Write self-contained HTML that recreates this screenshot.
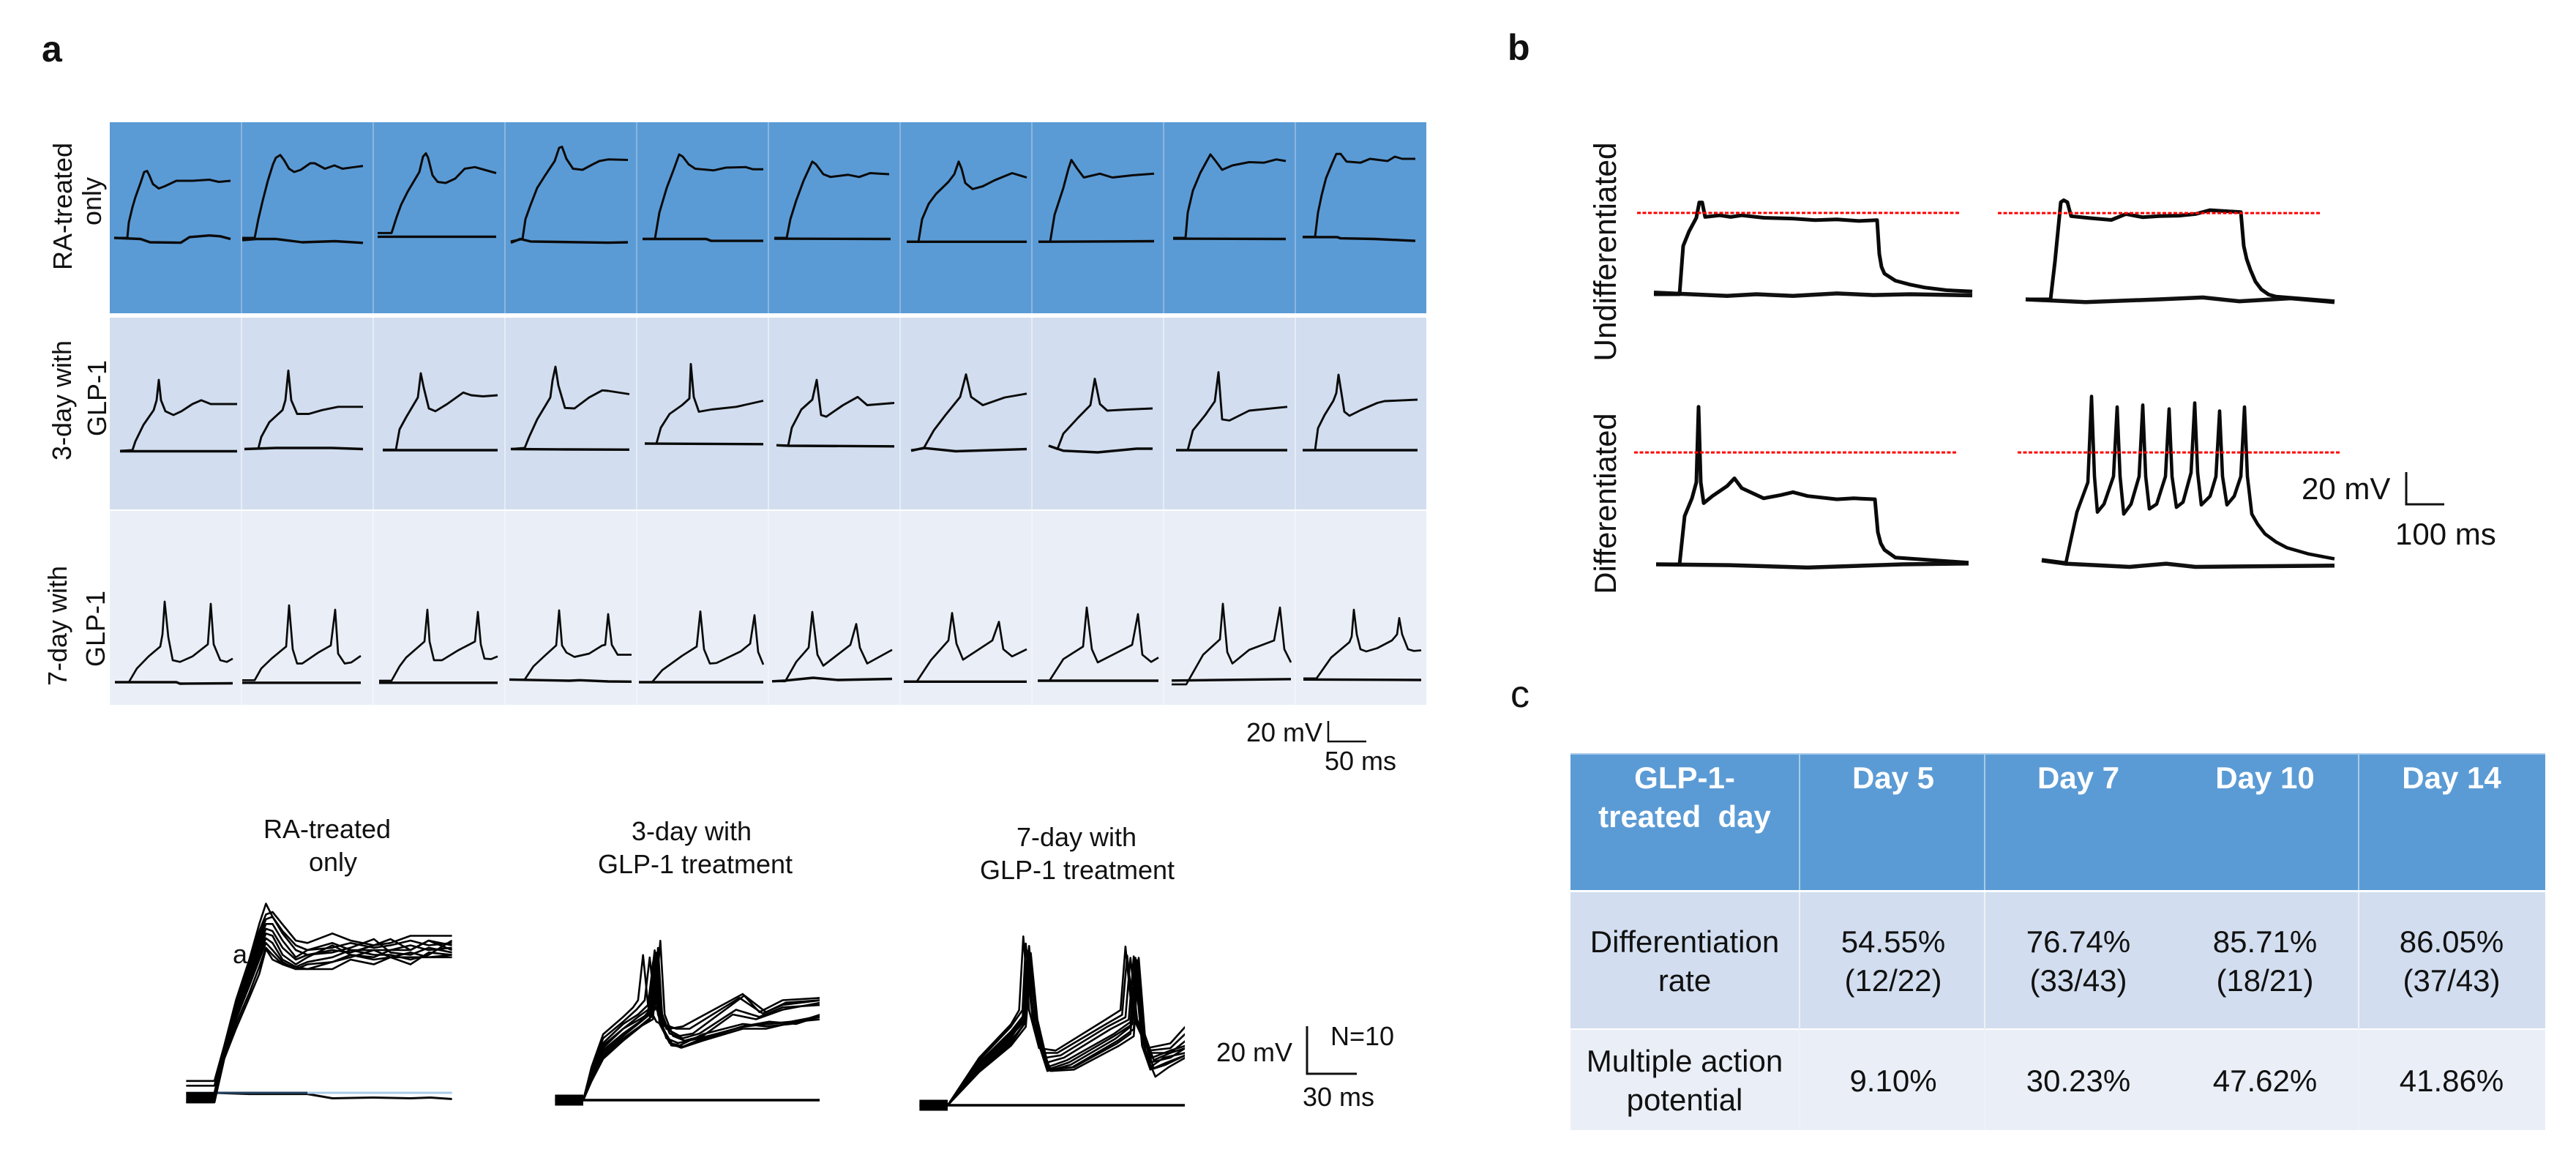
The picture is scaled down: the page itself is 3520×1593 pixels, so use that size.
<!DOCTYPE html>
<html lang="en">
<head>
<meta charset="utf-8">
<title>GLP-1 electrophysiology figure</title>
<style>
html,body{margin:0;padding:0;background:#fff}
svg{display:block}
text{font-family:"Liberation Sans",sans-serif;fill:#111}
.bold{font-weight:700}
.t42{font-size:42px}
.t36{font-size:36px}
.mid{text-anchor:middle}
.wh{fill:#fff;font-weight:700;white-space:pre}
</style>
</head>
<body>
<svg id="figure" xmlns="http://www.w3.org/2000/svg" width="3520" height="1593" viewBox="0 0 3520 1593">
<rect x="0" y="0" width="3520" height="1593" fill="#fff"/>

<text class="bold" x="57" y="84" font-size="50">a</text>
<text class="bold" x="2060" y="82" font-size="50">b</text>
<text x="2064" y="966" font-size="52">c</text>

<rect x="150" y="167" width="1799" height="261" fill="#5B9BD5"/>
<rect x="150" y="434" width="1799" height="262" fill="#D2DEEF"/>
<rect x="150" y="698" width="1799" height="265" fill="#EAEFF7"/>
<g id="gridlines"></g>

<text class="t36 mid" transform="translate(98,282) rotate(-90)">RA-treated</text>
<text class="t36 mid" transform="translate(138,275) rotate(-90)">only</text>
<text class="t36 mid" transform="translate(97,547) rotate(-90)">3-day with</text>
<text class="t36 mid" transform="translate(145,544) rotate(-90)">GLP-1</text>
<text class="t36 mid" transform="translate(91,855) rotate(-90)">7-day with</text>
<text class="t36 mid" transform="translate(143,859) rotate(-90)">GLP-1</text>

<g id="rowTraces"></g>

<text class="t36" x="1703" y="1013">20 mV</text>
<path d="M1815 985V1013H1867" fill="none" stroke="#111" stroke-width="2.5"/>
<text class="t36" x="1810" y="1052">50 ms</text>

<text class="t36 mid" x="447" y="1145">RA-treated</text>
<text class="t36 mid" x="455" y="1190">only</text>
<text class="t36 mid" x="945" y="1148">3-day with</text>
<text class="t36 mid" x="950" y="1193">GLP-1 treatment</text>
<text class="t36 mid" x="1471" y="1156">7-day with</text>
<text class="t36 mid" x="1472" y="1201">GLP-1 treatment</text>

<defs>
<clipPath id="clipA"><rect x="240" y="1200" width="378" height="330"/></clipPath>
<clipPath id="clipB"><rect x="740" y="1200" width="380" height="330"/></clipPath>
<clipPath id="clipC"><rect x="1240" y="1200" width="379" height="340"/></clipPath>
</defs>
<g id="overlayA" clip-path="url(#clipA)"></g>
<g id="overlayB" clip-path="url(#clipB)"></g>
<g id="overlayC" clip-path="url(#clipC)"></g>
<text class="t36" x="318" y="1316">a</text>

<text class="t36" x="1662" y="1450">20 mV</text>
<path d="M1786 1402V1467H1854" fill="none" stroke="#111" stroke-width="3"/>
<text class="t36" x="1818" y="1428">N=10</text>
<text class="t36" x="1780" y="1511">30 ms</text>

<text class="mid" font-size="42.5" transform="translate(2208,344) rotate(-90)">Undifferentiated</text>
<text class="mid" font-size="41.7" transform="translate(2208,688) rotate(-90)">Differentiated</text>
<g id="panelB"></g>
<path d="M3288 645V689H3340" fill="none" stroke="#111" stroke-width="3"/>
<text class="t42" x="3145" y="682">20 mV</text>
<text class="t42" x="3273" y="744">100 ms</text>

<g>
<rect x="2146" y="1029" width="1332" height="2" fill="#a9cbe9"/>
<rect x="2146" y="1031" width="1332" height="185" fill="#5B9BD5"/>
<rect x="2146" y="1219" width="1332" height="186" fill="#D2DEEF"/>
<rect x="2146" y="1407" width="1332" height="137" fill="#EAEFF7"/>
<path d="M2459 1031V1216M2712 1031V1216M3223 1031V1216" stroke="#a9cbe9" stroke-width="2"/>
<path d="M2459 1219V1544M2712 1219V1544M3223 1219V1544" stroke="#eef2f8" stroke-width="2"/>
<text class="t42 mid wh" x="2302" y="1077">GLP-1-</text>
<text class="t42 mid wh" x="2302" y="1130">treated  day</text>
<text class="t42 mid wh" x="2587" y="1077">Day 5</text>
<text class="t42 mid wh" x="2840" y="1077">Day 7</text>
<text class="t42 mid wh" x="3095" y="1077">Day 10</text>
<text class="t42 mid wh" x="3350" y="1077">Day 14</text>
<text class="t42 mid" x="2302" y="1301">Differentiation</text>
<text class="t42 mid" x="2302" y="1354">rate</text>
<text class="t42 mid" x="2587" y="1301">54.55%</text>
<text class="t42 mid" x="2587" y="1354">(12/22)</text>
<text class="t42 mid" x="2840" y="1301">76.74%</text>
<text class="t42 mid" x="2840" y="1354">(33/43)</text>
<text class="t42 mid" x="3095" y="1301">85.71%</text>
<text class="t42 mid" x="3095" y="1354">(18/21)</text>
<text class="t42 mid" x="3350" y="1301">86.05%</text>
<text class="t42 mid" x="3350" y="1354">(37/43)</text>
<text class="t42 mid" x="2302" y="1464">Multiple action</text>
<text class="t42 mid" x="2302" y="1517">potential</text>
<text class="t42 mid" x="2587" y="1491">9.10%</text>
<text class="t42 mid" x="2840" y="1491">30.23%</text>
<text class="t42 mid" x="3095" y="1491">47.62%</text>
<text class="t42 mid" x="3350" y="1491">41.86%</text>
</g>
</svg>

<script>
/* ---------- Panel a: single-cell recordings, [time, voltage] pairs ---------- */
const raTreatedFiring = [
[[6,0],[24,0],[26,14],[31,28],[35,37],[42,50],[47,60],[51,61],[54,57],[59,49],[67,45],[75,47],[91,52],[113,52],[136,53],[149,51],[165,52]],
[[1,0],[18,0],[23,17],[29,34],[36,52],[43,67],[47,73],[53,75.5],[58,71],[65,63],[72,60],[81,62],[94,68],[100,68],[114,63],[127,66],[138,63],[154,64.5],[166,65.5]],
[[6,4.4],[25,4.4],[32,19],[38,30],[47,42],[63,60],[68,74],[72,77],[75,73],[81,57],[88,51],[99,50],[112,54],[125,63],[139,64.5],[152,62],[168,59]],
[[8,-3.3],[24,-1],[28,17],[35,30],[44,45.5],[55,57],[68,70],[74,82],[78,83],[84,72],[93,63],[106,62],[120,67],[129,70],[141,71.5],[168,71]],
[[8,-1],[25,-0.7],[31,23],[41,45.5],[51,63],[58,76],[63,74],[71,67],[80,63],[105,61.5],[122,64],[149,64.5],[159,62.5],[173,62.5]],
[[8,0],[25,0],[30,17],[38,34],[48,52],[60,69.5],[65,67],[75,58],[85,55.5],[109,57.5],[124,55.5],[139,59],[165,58]],
[[9,-3.5],[25,-3.5],[30,17],[39,31],[49,40],[66,51],[74,58],[80,69.5],[84,63],[89,50],[99,44.5],[113,47],[129,52.5],[153,59],[173,55]],
[[9,-3.5],[25,-3.5],[31,21],[43,45.5],[50,63],[54,71],[62,63],[71,55],[93,58.5],[110,55],[137,57],[167,58.5]],
[[13,0],[30,0],[33,23],[40,43],[50,59],[64,76],[70,71],[80,62],[94,66],[117,69],[137,68.5],[154,71.5],[167,70]],
[[10,1],[27,1],[31,23],[36,39],[42,54.5],[51,69],[56,76.5],[62,76.5],[70,69.5],[89,68.5],[102,72],[126,70],[136,74],[146,72],[164,72]]
];
const raTreatedResting = [
[[6,0],[42,-1],[55,-4],[97,-4.4],[109,0.7],[136,2.2],[151,1.5],[165,-1]],
[[1,-2],[20,-1],[47,-1],[83,-4],[128,-3],[166,-4.5]],
[[6,1.1],[168,1.1]],
[[8,-4.4],[21,-1],[35,-3.3],[141,-4.4],[168,-4]],
[[8,-1],[95,-1],[102,-2.7],[173,-2.7]],
[[8,-0.7],[167,-1]],
[[9,-3.5],[173,-3.5]],
[[9,-3.5],[167,-3]],
[[13,-0.7],[167,-1]],
[[10,0.7],[57,0.7],[62,-0.4],[109,-1],[164,-2.7]]
];
const threeDayFiring = [
[[14,-0.7],[31,0],[35,8],[46,23],[60,36.5],[64,45.5],[67,64],[70,45.5],[76,35.5],[87,32],[98,35.5],[113,42],[125,45.5],[138,42],[174,42]],
[[4,1],[23,1.5],[27,12],[38,25.5],[56,36.5],[60,45.5],[64,72.5],[68,45.5],[76,33],[92,33],[110,36.5],[132,39.5],[166,39.5]],
[[13,0.5],[31,0.5],[36,19],[45,30],[61,48],[65,70],[69,57],[76,38],[85,35.5],[101,42],[123,52.5],[134,50],[150,49],[170,50]],
[[8,1],[27,2],[33,12],[44,28],[62,48],[65,63.5],[69,76],[73,59],[82,38.5],[95,38],[115,48],[133,54.5],[141,54],[170,51]],
[[11,6],[27,6],[33,20.5],[45,33],[62,41],[72,47],[74,78.5],[78,48.5],[85,35],[102,37],[136,39.5],[173,45]],
[[11,4.5],[27,4],[32,20.5],[45,37],[60,46],[66,64],[72,32],[79,30.5],[102,41],[122,48.5],[135,41],[172,43]],
[[15,0],[32,1.5],[46,18],[62,32],[82,48.5],[90,69],[97,48.5],[113,41],[143,48],[173,51.5]],
[[23,4],[35,1],[43,15],[63,29.5],[80,41],[86,65],[93,42],[103,36],[130,37],[165,38]],
[[17,0],[33,0],[40,18],[57,32],[70,44.5],[75,71],[80,28],[90,27],[117,36],[169,39.5]],
[[10,0],[27,0],[31,20],[40,32],[52,45],[56,52],[59,68.7],[63,52],[67,35],[74,31.3],[90,36.7],[112,43],[122,44.7],[167,46]]
];
const threeDayResting = [
[[14,-1],[174,-1]],
[[4,1],[47,2],[123,2],[166,1]],
[[13,0],[170,0]],
[[8,1],[84,0.7],[170,0.5]],
[[11,6],[173,5.5]],
[[11,4.5],[28,4],[172,3.5]],
[[15,-0.5],[32,2],[76,-1],[173,1]],
[[23,4],[43,-0.5],[90,-2],[143,1.3],[165,1.3]],
[[17,0],[169,0]],
[[10,0],[167,0]]
];
const sevenDayFiring = [
[[7,0],[26,0],[37,12.5],[53,23.5],[69,32.5],[72,43.5],[75,73.5],[80,41],[86,20],[96,18.5],[113,23.5],[134,34.5],[138,71.5],[142,34.5],[151,20],[160,18.5],[168,21.5]],
[[1,1.8],[18,1.8],[27,12.5],[41,21.5],[61,32.5],[65,70],[70,30],[76,17],[83,17],[105,27],[122,33.5],[128,66],[132,26],[141,17],[150,18],[163,24]],
[[8,1.3],[25,1.3],[36,14.5],[45,22.5],[70,37],[74,66],[77,37],[83,20],[94,20],[116,29],[139,37],[143,64],[147,34.5],[152,21.5],[161,21],[170,23.5]],
[[6,2.4],[27,2.4],[39,14.5],[55,24.5],[70,33.5],[74,65.5],[78,33.5],[84,27],[95,23],[115,26],[133,33.5],[137,34],[141,62],[146,34],[154,25],[173,25]],
[[3,0],[21,0],[35,11],[62,24],[82,32.5],[87,64.5],[92,30],[100,17],[109,17.5],[142,28],[155,35],[161,61],[166,27.5],[173,16]],
[[5,0.8],[23,0.8],[38,18.5],[55,31.5],[60,64],[67,25],[75,15],[112,34],[120,53],[125,31.5],[135,17],[169,29.5]],
[[5,0.8],[23,0.8],[42,20],[66,38],[71,63],[77,35],[86,20.5],[126,38],[135,55],[141,30],[153,23.5],[173,30]],
[[8,1.3],[24,1.3],[43,21],[70,32.5],[75,68],[82,30],[90,18],[137,34],[145,62],[151,25],[163,18.5],[173,22.5]],
[[11,-2],[31,-2],[54,25],[77,39],[81,71.5],[87,27.5],[94,17],[117,29.5],[151,38],[159,68],[165,30],[174,18]],
[[11,3.5],[29,3.5],[49,22.5],[74,36.5],[77,41.5],[80,66],[84,43.5],[89,30],[97,28],[112,31],[132,38],[139,43.5],[142,58.5],[146,43.5],[154,30],[162,28.5],[172,29]]
];
const sevenDayResting = [
[[7,0],[91,0],[96,-1.3],[168,-1]],
[[1,-0.5],[163,-0.5]],
[[8,-0.5],[170,-0.5]],
[[6,2.4],[88,1.3],[102,1.8],[141,0.7],[173,0.5]],
[[3,0],[173,0]],
[[5,0.8],[23,1.5],[61,4],[95,2],[169,3]],
[[5,0.5],[173,0.5]],
[[8,1.3],[173,1.3]],
[[11,1.5],[174,2.8]],
[[11,2.5],[172,2]]
];

/* ---------- Overlay of ten RA-treated recordings: shared time base, one voltage list per trace ---------- */
const overlayRaTimeMs = [-17,0,6,13,21,27,31,35,41,49,56,71,82,96,106,118,129,143];
const overlayRaVoltage = [
[5,5,20,39,56,71,79.5,74,68,62,60,61,63,61,62,64,62,63],
[3,3,19,38,55,68,75,76,70.8,64,63,67,64,62,63,66,66,66],
[0,0,18,37,54,66,73,74,67,60,58,60,59,62,64.6,60,64,62],
[-1,-1,17.5,36,52,64,71,71,64,57,60,63,60,60,60,62,60,61],
[-2,-2,17,35,50,62,69,68,61,56,58,59,61,64.6,59,58,61,59],
[-3,-3,16.5,34,49,60,67,66,58,54,57,62,58,57,60,60,64,60],
[-4,-4,16,33,47,58,65,63,56,53,55,57,60,58,58,56,58,64],
[-4,-4,15.5,31,45,56,63,60,55,52,54,55,57,60,57,59,57,58],
[-3,-3,15,29,42,53,61,58,54,52,52,52,56,54,57,54,59,58],
[-4,-4,14.4,27,40,50,60.5,56,54,53,52,55,58,56,57,57,57,57]
];
const overlayRaRestTimeMs = [-17,0,21,56,71,96,118,130,143];
const overlayRaRestVoltage = [0,0,-0.5,-0.5,-2.3,-2,-2.3,-2,-2.6];

/* ---------- Overlay of ten 3-day recordings, [time from onset, voltage] ---------- */
const overlay3DayTraces = [
[[0,0],[5,14],[12,27.7],[24,35],[30,39],[33,42],[36,61],[39,40],[44,33],[52,30],[60,31],[96,44.6],[106,37],[120,42],[143,43]],
[[0,0],[5,13],[12,26],[24,33],[32,38],[37,42],[40,60],[43,40],[48,32],[56,30],[64,30],[94,43],[108,36.4],[120,40],[143,42]],
[[0,0],[5,12],[12,24],[24,32],[33,36],[39,40],[43,63],[46,38],[50,30],[58,27],[66,28],[97,44],[110,37],[122,41],[143,42]],
[[0,0],[5,11],[12,23],[24,30],[33,35],[41,39],[44,62],[47,37],[52,28],[60,26],[70,28],[92,38],[106,35],[120,39],[143,40]],
[[0,0],[5,11],[12,22],[24,30],[34,34],[43,38],[46.4,67],[49,36],[54,27],[61,25],[72,27],[90,36],[104,34],[120,38],[143,41]],
[[0,0],[5,10],[12,21],[24,28],[34,33],[39,37],[42,58],[45,36],[50,26],[57,24],[70,26],[96,30.8],[110,32],[125,33],[143,35.4]],
[[0,0],[5,10],[12,20],[24,27],[33,32],[40,36],[43,62],[46,34],[52,24],[58,23],[72,27.7],[96,32],[110,31],[125,32],[143,36]],
[[0,0],[5,9],[12,19],[24,26],[34,31],[41,35],[44,60],[47,32],[53,23],[60,22.5],[72,26],[96,31],[112,32],[128,33],[143,35]],
[[0,0],[5,8.5],[12,18],[24,25],[33,30],[40,34],[43,56],[46,32],[52,24],[59,22],[72,25],[96,30],[110,30],[128,33],[143,34]],
[[0,0],[5,8],[12,17.4],[24,25],[34,30.8],[42,34],[45,64],[48,30],[54,23],[61,22.5],[74,26],[96,31],[112,33],[128,32],[143,35.4]]
];
/* ---------- Overlay of ten 7-day recordings, [time from onset, voltage] ---------- */
const overlay7DayTraces = [
[[0,0],[19,20],[38,34],[43,40],[45.5,71],[49,40],[55,24],[65,23],[95,36],[104,40],[107,66.7],[111,38],[120,24],[134,26],[143,33]],
[[0,0],[19,19],[38,33],[45,40],[47,68],[51,38],[57,22],[66,22],[95,34],[105,38],[108,63],[112,38],[121,23],[134,24],[143,30]],
[[0,0],[19,18],[38,31],[46,38],[49,67],[53,36],[59,20],[68,21],[96,33],[107,37],[110,62],[114,36],[122,22],[134,22],[143,27]],
[[0,0],[19,18],[38,30],[47,37],[50,64],[54,36],[60,18],[70,20],[98,32],[109,36],[112,62.6],[116,34],[123,20],[134,23],[143,25]],
[[0,0],[19,17],[38,30],[46,37],[48,65],[52,35],[60,16],[72,19],[100,30],[110,35],[113,62],[117,33],[124,19],[134,22],[143,24]],
[[0,0],[19,17],[38,29],[47,36],[50,63],[54,34],[60,15],[73,18],[100,29],[111,34],[114,61],[118,30],[122,18],[134,20],[143,24]],
[[0,0],[19,16],[38,28],[45,36],[47,60],[52,32],[60,14.4],[74,17],[101,28],[110,33],[113,58],[117,28],[122,16],[130,20],[143,22]],
[[0,0],[19,15],[38,27],[47,35],[49,62],[54,32],[61,15],[75,16],[102,27],[112,32],[115,62],[119,27],[124,15.4],[131,17],[143,21]],
[[0,0],[19,14.5],[38,26],[46,34],[48,60],[53,30],[62,15],[76,16],[102,26],[110,30],[113,56],[117,25],[122,15],[132,18],[143,21]],
[[0,0],[19,14],[38,25],[47,33],[50,60],[55,28],[62,14.4],[76,15],[103,25],[112,29],[115,60],[119,22],[125,12],[133,16],[143,20]]
];
const overlayPrePulse = [[-17,0],[0,0]];
const overlayRest = [[-17,0],[0,0],[143,0]];

/* ---------- Panel b: four example recordings ---------- */
const undiffAFiring = [[0,0],[70,0],[80,30],[96,39],[116,47.5],[124,57],[132,57],[140,48],[180,49],[210,48],[240,49],[300,47.5],[380,47],[440,46],[500,46.5],[560,45.5],[610,46],[616,25],[622,17],[630,12.8],[660,8.4],[700,6],[740,4.2],[800,2.5],[870,1.7]];
const undiffARest = [[0,1],[100,0],[200,-1],[280,0],[380,-1],[500,0.5],[600,-0.5],[700,0],[870,-0.7]];
const undiffBFiring = [[0,0],[68,0],[80,23.4],[96,60.3],[104,61.6],[114,60.3],[124,51.7],[174,50.5],[234,49.3],[274,53],[320,51],[364,51.7],[420,52],[464,53],[504,55.4],[588,54.2],[596,33.2],[604,25],[614,18.5],[628,11],[644,6.2],[664,3],[684,1.7],[844,-1.2]];
const undiffBRest = [[0,0],[164,-1.7],[364,0],[484,1.2],[584,-1.2],[724,0.7],[844,-1.7]];
const diffAFiring = [[0,0],[64,0],[78,30],[98,41],[110,51],[116,97.8],[122,51],[130,38],[154,42.4],[194,48.6],[214,53.4],[234,47.3],[294,41],[340,43],[374,44.8],[414,42.4],[494,40.4],[540,41],[598,40.4],[606,20],[614,13],[624,9],[654,4.2],[854,1]];
const diffARest = [[0,0],[200,-0.5],[414,-2],[674,0],[854,0.5]];
const diffBFiring = [[0,2],[66,0],[96,31.5],[126,50],[136,103.4],[144,53.7],[152,31.5],[170,36.5],[196,53.7],[206,96.8],[214,53.7],[224,30.3],[244,36.5],[266,53.7],[276,98],[284,53.7],[294,33.5],[314,36.5],[338,53.7],[348,95.6],[356,53.7],[368,34.5],[386,37.7],[408,56],[418,99.3],[426,56],[436,36],[460,41.4],[476,53.7],[486,94.3],[494,53.7],[506,36],[526,41.4],[544,53.7],[554,96.8],[562,53.7],[574,30.3],[590,24],[610,18],[640,13],[670,9.4],[730,5.5],[800,2.5]];
const diffBRest = [[0,1.5],[66,-0.5],[240,-2.5],[340,-0.5],[420,-2.5],[800,-1.7]];
const thresholdMv = [50.5, 53.6, 69.5, 68.6];

/* ---------- Axis functions ---------- */
const NS = 'http://www.w3.org/2000/svg';
const cellTimeX = (col, t) => 150 + col * 180 + t;
const rowVoltY = (row, v) => [325, 615, 932][row] - v * 1.5;
const overlayAX = t => 293 + t * 2.27;
const overlayAY = v => 1493 - v * 3.25;
const overlayBX = t => 797 + t * 2.27;
const overlayBY = v => 1503 - v * 3.25;
const overlayCX = t => 1295 + t * 2.27;
const overlayCY = v => 1510 - v * 3.25;
const bX = (left, t) => left + t * 0.5;
const bY = (base, v) => base - v * 2.2;

function linePath(pts, fx, fy) {
  return pts.map((p, i) => (i ? 'L' : 'M') + fx(p[0]).toFixed(1) + ' ' + fy(p[1]).toFixed(1)).join('');
}
function addPath(parent, d, color, width) {
  const el = document.createElementNS(NS, 'path');
  el.setAttribute('d', d);
  el.setAttribute('fill', 'none');
  el.setAttribute('stroke', color);
  el.setAttribute('stroke-width', width);
  el.setAttribute('stroke-linejoin', 'round');
  el.setAttribute('stroke-linecap', 'butt');
  parent.appendChild(el);
  return el;
}

/* cell separators */
const gridG = document.getElementById('gridlines');
const sepColors = ['#8ab6e0', '#e6ecf6', '#f1f4fa'];
const sepTop = [167, 434, 698];
const sepBottom = [428, 696, 963];
for (let r = 0; r < 3; r++) {
  for (let c = 1; c < 10; c++) {
    const sep = addPath(gridG, 'M' + cellTimeX(c, 0) + ' ' + sepTop[r] + 'V' + sepBottom[r], sepColors[r], 2);
    
    
  }
}

/* per-cell traces */
const rowG = document.getElementById('rowTraces');
const firingRows = [raTreatedFiring, threeDayFiring, sevenDayFiring];
const restingRows = [raTreatedResting, threeDayResting, sevenDayResting];
const rowWidth = [3, 2.9, 2.7];
firingRows.forEach((row, r) => {
  row.forEach((pts, c) => {
    const fx = t => cellTimeX(c, t);
    const fy = v => rowVoltY(r, v);
    const rest = addPath(rowG, linePath(restingRows[r][c], fx, fy), '#0a0a0a', 3.4);
    
    
    const fire = addPath(rowG, linePath(pts, fx, fy), '#0a0a0a', rowWidth[r]);
    
    
  });
});

/* overlay A */
const gA = document.getElementById('overlayA');
const pairs = (ts, vs) => ts.map((t, i) => [t, vs[i]]);
const restA = addPath(gA, linePath(pairs(overlayRaRestTimeMs, overlayRaRestVoltage), overlayAX, overlayAY), '#0a0a0a', 3);


const blueA = addPath(gA, linePath([[-17,0],[143,0]], overlayAX, overlayAY), '#a9cbe9', 3);


const navyA = addPath(gA, linePath([[0,0],[56,0]], overlayAX, overlayAY), '#23405f', 3);


const preA = addPath(gA, linePath([[-17,-2],[0,-2]], overlayAX, overlayAY), '#000', 14);


overlayRaVoltage.forEach(vs => {
  const tr = addPath(gA, linePath(pairs(overlayRaTimeMs, vs), overlayAX, overlayAY), '#000', 2.6);
  
  
});

/* overlays B and C */
function drawOverlay(groupId, traces, fx, fy, name) {
  const g = document.getElementById(groupId);
  const pre = addPath(g, linePath(overlayPrePulse, fx, fy), '#000', 15);
  
  
  const rest = addPath(g, linePath(overlayRest, fx, fy), '#000', 3.4);
  
  
  traces.forEach(pts => {
    const tr = addPath(g, linePath(pts, fx, fy), '#000', 2.6);
    
    
  });
}
drawOverlay('overlayB', overlay3DayTraces, overlayBX, overlayBY, 'overlay-3-day');
drawOverlay('overlayC', overlay7DayTraces, overlayCX, overlayCY, 'overlay-7-day');

/* panel b */
const gB = document.getElementById('panelB');
const bPanels = [
  [undiffAFiring, undiffARest, 2260, 402],
  [undiffBFiring, undiffBRest, 2768, 409],
  [diffAFiring, diffARest, 2263, 771],
  [diffBFiring, diffBRest, 2790, 769]
];
const thresholdStart = [2237, 2730, 2233, 2757];
bPanels.forEach((cfg, i) => {
  const fx = t => bX(cfg[2], t);
  const fy = v => bY(cfg[3], v);
  const rest = addPath(gB, linePath(cfg[1], fx, fy), '#111', 5.5);
  
  
  const fire = addPath(gB, linePath(cfg[0], fx, fy), '#0a0a0a', i === 3 ? 4.6 : 5);
  
  
  const red = addPath(gB, 'M' + thresholdStart[i] + ' ' + fy(thresholdMv[i]).toFixed(1) + 'h441', '#f00', 3);
  red.setAttribute('stroke-dasharray', '5 2.5');
  
  
});
</script>
</body>
</html>
